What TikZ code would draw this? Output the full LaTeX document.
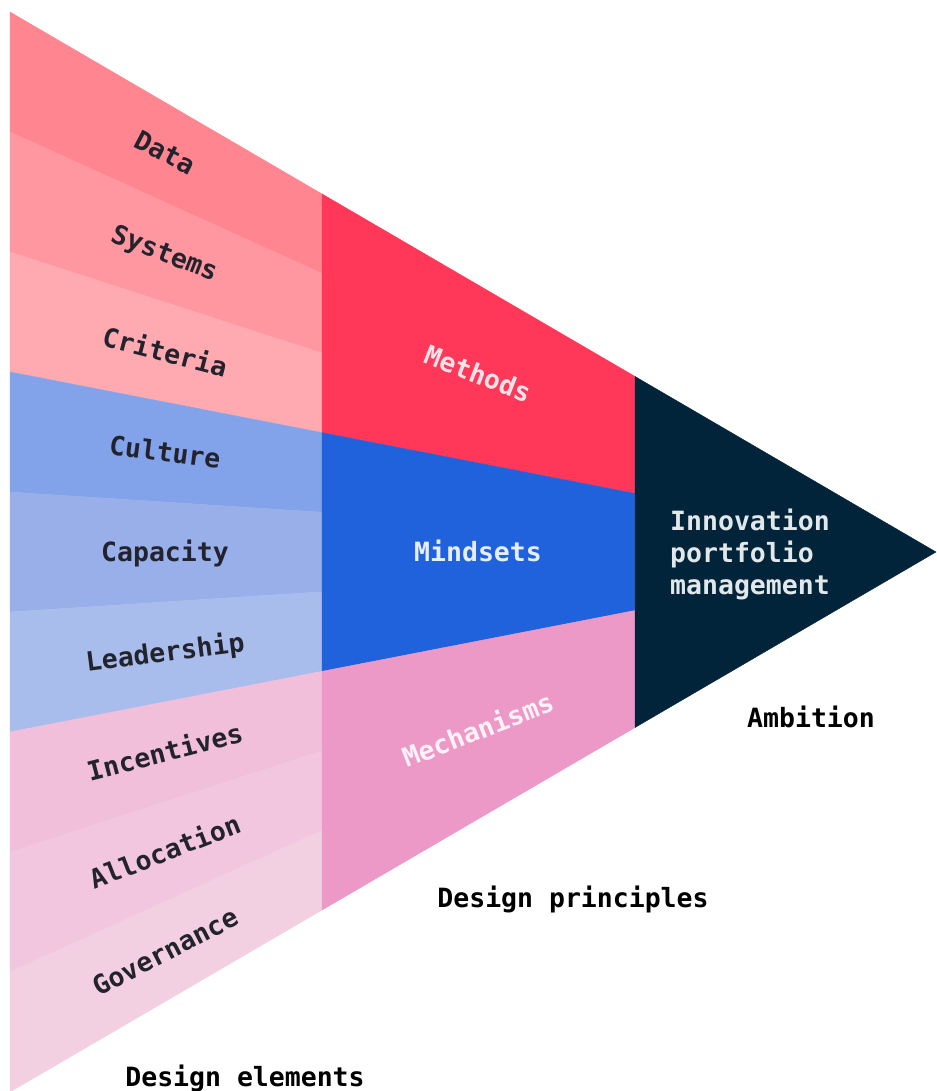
\documentclass[tikz,border=0pt]{standalone}
\usepackage{fontspec}
\newfontfamily\labelfont{DejaVu Sans Mono}
\usetikzlibrary{calc}

% band colours
\definecolor{cData}{HTML}{FF8691}
\definecolor{cSystems}{HTML}{FF97A1}
\definecolor{cCriteria}{HTML}{FFA9B1}
\definecolor{cCulture}{HTML}{82A3EA}
\definecolor{cCapacity}{HTML}{98AFEA}
\definecolor{cLeadership}{HTML}{A9BDED}
\definecolor{cIncentives}{HTML}{F1BFDA}
\definecolor{cAllocation}{HTML}{F2C6DE}
\definecolor{cGovernance}{HTML}{F2D0E2}
\definecolor{cMethods}{HTML}{FF3859}
\definecolor{cMindsets}{HTML}{2062DC}
\definecolor{cMechanisms}{HTML}{EC99C7}
\definecolor{cAmbition}{HTML}{01243A}
% text colours
\definecolor{tDark}{HTML}{23232D}
\definecolor{tMethods}{HTML}{FFE3E9}
\definecolor{tMindsets}{HTML}{E6EDFC}
\definecolor{tMechanisms}{HTML}{FFF2F8}
\definecolor{tAmbition}{HTML}{E2E7EA}

\begin{document}
\begin{tikzpicture}[x=1pt,y=-1pt,
  lbl/.style={font=\labelfont\bfseries\fontsize{26.5}{32}\selectfont,
    inner sep=0pt, text height=19.3pt, text depth=0pt},
  band/.style={fill=#1, draw=#1, line width=0.4pt}]
\useasboundingbox (0,0) rectangle (936,1091);

% apex and the nine equal divisions of the left edge
\coordinate (A) at (936,552);
\foreach \k in {0,...,9} {
  \coordinate (L\k) at (10,{12+120*\k});
  \coordinate (P\k) at ($(A)!0.66307!(L\k)$);   % on x = 322
  \coordinate (Q\k) at ($(A)!0.32505!(L\k)$);   % on x = 635
}

% design elements
\foreach \k/\c in {0/cData,1/cSystems,2/cCriteria,3/cCulture,4/cCapacity,
                   5/cLeadership,6/cIncentives,7/cAllocation,8/cGovernance} {
  \pgfmathtruncatemacro\n{\k+1}
  \path[band=\c] (L\k) -- (L\n) -- (P\n) -- (P\k) -- cycle;
}

% design principles
\path[band=cMethods]    (P0) -- (P3) -- (Q3) -- (Q0) -- cycle;
\path[band=cMindsets]   (P3) -- (P6) -- (Q6) -- (Q3) -- cycle;
\path[band=cMechanisms] (P6) -- (P9) -- (Q9) -- (Q6) -- cycle;

% ambition
\path[band=cAmbition] (Q0) -- (Q9) -- (A) -- cycle;

% element labels, along the centre ray of each band
\node[lbl,text=tDark,rotate=-27.40] (data)       at ($(A)!0.83261!(10,72)$)  {Data};
\node[lbl,text=tDark,rotate=-21.25] (systems)    at ($(A)!0.83261!(10,192)$) {Systems};
\node[lbl,text=tDark,rotate=-14.53] (criteria)   at ($(A)!0.83261!(10,312)$) {Criteria};
\node[lbl,text=tDark,rotate=-7.38]  (culture)    at ($(A)!0.83261!(10,432)$) {Culture};
\node[lbl,text=tDark]               (capacity)   at ($(A)!0.83261!(10,552)$) {Capacity};
\node[lbl,text=tDark,rotate=7.38]   (leadership) at ($(A)!0.83261!(10,672)$) {Leadership};
\node[lbl,text=tDark,rotate=14.53]  (incentives) at ($(A)!0.83261!(10,792)$) {Incentives};
\node[lbl,text=tDark,rotate=21.25]  (allocation) at ($(A)!0.83261!(10,912)$) {Allocation};
\node[lbl,text=tDark,rotate=27.40]  (governance) at ($(A)!0.83261!(10,1032)$) {Governance};

% principle labels
\node[lbl,text=tMethods,rotate=-21.25]   (methods)    at ($(A)!0.49460!(10,192)$) {Methods};
\node[lbl,text=tMindsets]                (mindsets)   at ($(A)!0.49460!(10,552)$) {Mindsets};
\node[lbl,text=tMechanisms,rotate=21.25] (mechanisms) at ($(A)!0.49460!(10,912)$) {Mechanisms};

% ambition label
\node[font=\labelfont\bfseries\fontsize{26.5}{32}\selectfont, inner sep=0pt,
      text=tAmbition, align=left, anchor=west] (ipm) at (670,554)
  {Innovation\\portfolio\\management};

% column titles
\node[lbl,text=black] (ambition)   at (811,718)  {Ambition};
\node[lbl,text=black] (principles) at (573,898)  {Design principles};
\node[lbl,text=black] (elements)   at (245,1077) {Design elements};
\end{tikzpicture}
\end{document}
